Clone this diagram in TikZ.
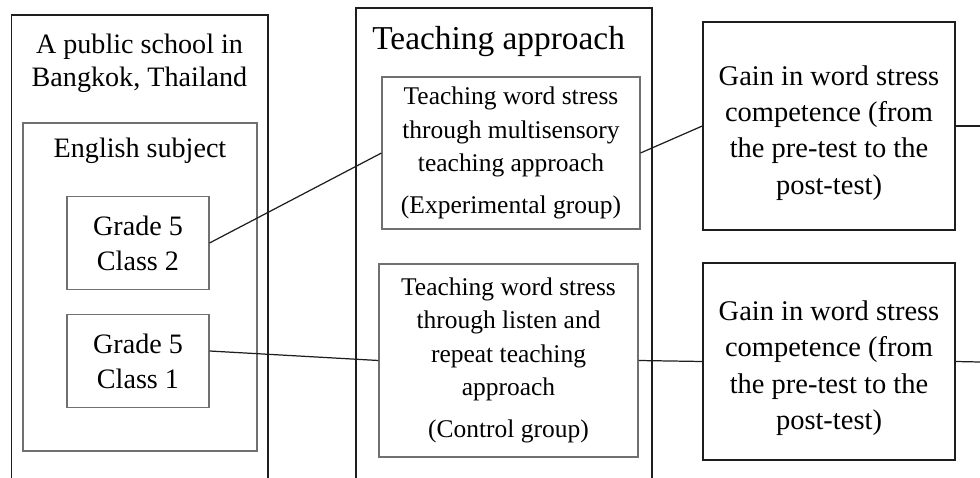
\documentclass[tikz,border=0pt]{standalone}
\usepackage{fontspec}
\setmainfont{Liberation Serif}
\usetikzlibrary{positioning}
\definecolor{Ink}{HTML}{1E1E1E}
\definecolor{Edge}{HTML}{707070}

\begin{document}
\begin{tikzpicture}[
    frame/.style={draw=Ink, line width=0.8pt, inner sep=0pt},
    subbox/.style={draw=Edge, line width=0.6pt, inner sep=0pt},
    classbox/.style={draw=Edge, line width=0.6pt, minimum width=2.84cm, minimum height=1.86cm, align=center, font=\fontsize{16}{20}\selectfont},
    teachbox/.style={draw=Edge, line width=0.6pt, align=center, font=\fontsize{14.5}{19}\selectfont},
    gainbox/.style={draw=Ink, line width=0.8pt, minimum width=5.04cm, align=center, font=\fontsize{16.2}{20.7}\selectfont},
    link/.style={draw=Ink, line width=0.7pt}]
    \useasboundingbox (0,0) rectangle (19.6,-9.56);
    % outer containers, open at the bottom edge
    \node[frame, minimum width=5.13cm, minimum height=9.9cm] (school) at (2.795,-5.25) {};
    \node[frame, minimum width=5.92cm, minimum height=10.04cm] (approach) at (10.08,-5.18) {};
    \node[align=center, font=\fontsize{16}{19}\selectfont] (schooltitle) at (2.79,-1.27) {A public school in\\Bangkok, Thailand};
    \node[anchor=west, inner sep=0pt, font=\fontsize{19}{23}\selectfont] (approachtitle) at (7.44,-0.83) {Teaching approach};
    % English subject and the two classes
    \node[subbox, minimum width=4.68cm, minimum height=6.56cm] (subject) at (2.80,-5.74) {};
    \node[font=\fontsize{16}{20}\selectfont] (subjecttitle) at (2.80,-3.02) {English subject};
    \node[classbox] (class2) at (2.76,-4.86) {Grade 5\\Class 2};
    \node[classbox] (class1) at (2.76,-7.22) {Grade 5\\Class 1};
    % teaching approaches
    \node[teachbox, minimum width=5.16cm, minimum height=3.04cm] (multi) at (10.22,-3.06) {Teaching word stress\\through multisensory\\teaching approach\\[5pt](Experimental group)};
    \node[teachbox, minimum width=5.18cm, minimum height=3.86cm] (repeat) at (10.17,-7.21) {Teaching word stress\\through listen and\\repeat teaching\\approach\\[5pt](Control group)};
    % outcomes (strut on the first line pushes the text a bit lower)
    \node[gainbox, minimum height=4.16cm] (gain1) at (16.58,-2.52) {\rule{0pt}{19pt}Gain in word stress\\competence (from\\the pre-test to the\\post-test)};
    \node[gainbox, minimum height=3.94cm] (gain2) at (16.58,-7.23) {\rule{0pt}{19pt}Gain in word stress\\competence (from\\the pre-test to the\\post-test)};
    \coordinate (out1) at (19.6,-2.52);
    \coordinate (out2) at (19.6,-7.24);
    \draw[link] (class2.east) -- (multi.west);
    \draw[link] ([yshift=0.2cm]class1.east) -- (repeat.west);
    \draw[link] (multi.east) -- (gain1.west);
    \draw[link] (repeat.east) -- (gain2.west);
    \draw[link] (gain1.east) -- (out1);
    \draw[link] (gain2.east) -- (out2);
\end{tikzpicture}
\end{document}
